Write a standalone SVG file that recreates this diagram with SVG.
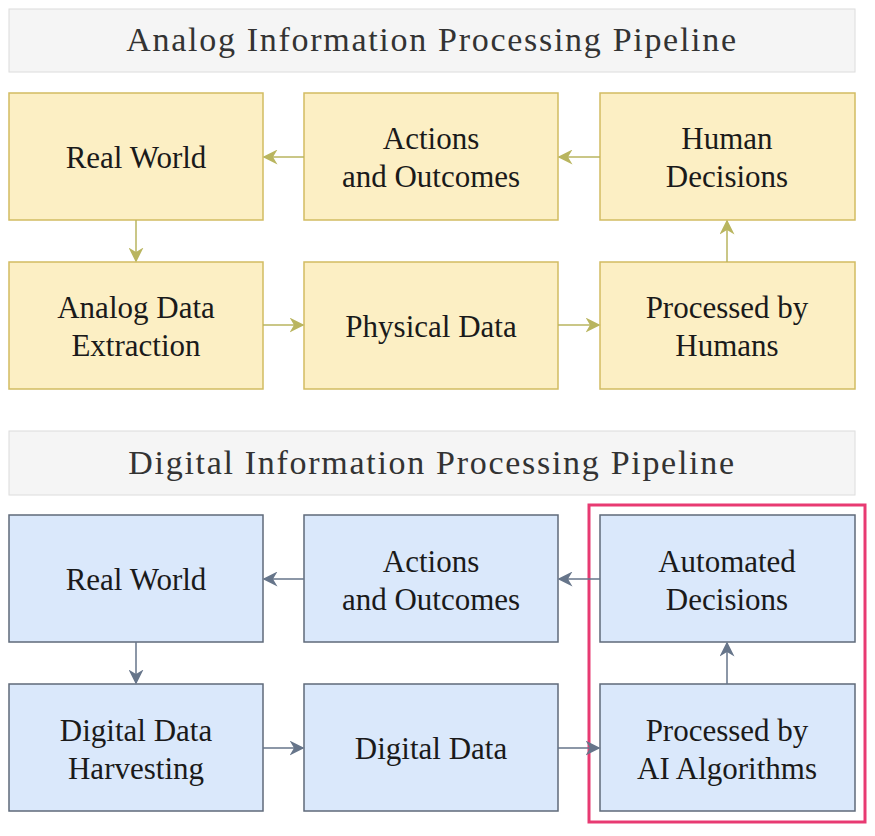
<svg xmlns="http://www.w3.org/2000/svg" width="875" height="836" viewBox="0 0 875 836">
<style>
.bg{fill:#ffffff}
.title rect{fill:#f5f5f5;stroke:#dcdcdc;stroke-width:1}
.title text{font-size:34px;fill:#333333;text-anchor:middle;letter-spacing:1.7px}
.an rect{fill:#fcefc4;stroke:#d2bc62;stroke-width:1.5}
.dg rect{fill:#dae8fb;stroke:#5f6a7a;stroke-width:1.5}
.node text{font-size:31px;fill:#1a1a1a;text-anchor:middle}
.ca{stroke:#b9b55f;stroke-width:1.5;fill:none;marker-end:url(#ma)}
.cd{stroke:#66758a;stroke-width:1.5;fill:none;marker-end:url(#md)}
</style>
<defs>
<marker id="ma" viewBox="0 0 10 10" refX="9" refY="5" markerWidth="15" markerHeight="15" markerUnits="userSpaceOnUse" orient="auto">
<path d="M0,0 L10,5 L0,10 L3,5 Z" fill="#b9b55f"/>
</marker>
<marker id="md" viewBox="0 0 10 10" refX="9" refY="5" markerWidth="15" markerHeight="15" markerUnits="userSpaceOnUse" orient="auto">
<path d="M0,0 L10,5 L0,10 L3,5 Z" fill="#66758a"/>
</marker>
</defs>
<rect class="bg" x="0" y="0" width="875" height="836"/>
<g font-family="Liberation Serif, Times New Roman, serif">
<g id="title-analog" class="title">
<rect x="9" y="9" width="846" height="63"/>
<text x="432" y="51">Analog Information Processing Pipeline</text>
</g>
<g id="title-digital" class="title">
<rect x="9" y="431" width="846" height="64"/>
<text x="432" y="474">Digital Information Processing Pipeline</text>
</g>

<g id="a-real-world" class="node an"><rect x="9" y="93" width="254" height="127"/><text x="136" y="168">Real World</text></g>
<g id="a-actions" class="node an"><rect x="304" y="93" width="254" height="127"/><text x="431" y="149">Actions</text><text x="431" y="187">and Outcomes</text></g>
<g id="a-human-decisions" class="node an"><rect x="600" y="93" width="255" height="127"/><text x="727" y="149">Human</text><text x="727" y="187">Decisions</text></g>
<g id="a-extraction" class="node an"><rect x="9" y="262" width="254" height="127"/><text x="136" y="318">Analog Data</text><text x="136" y="356">Extraction</text></g>
<g id="a-physical" class="node an"><rect x="304" y="262" width="254" height="127"/><text x="431" y="337">Physical Data</text></g>
<g id="a-processed" class="node an"><rect x="600" y="262" width="255" height="127"/><text x="727" y="318">Processed by</text><text x="727" y="356">Humans</text></g>

<g id="highlight"><rect x="589" y="505" width="276" height="317" fill="none" stroke="#e83a72" stroke-width="3"/></g>

<g id="d-real-world" class="node dg"><rect x="9" y="515" width="254" height="127"/><text x="136" y="590">Real World</text></g>
<g id="d-actions" class="node dg"><rect x="304" y="515" width="254" height="127"/><text x="431" y="572">Actions</text><text x="431" y="610">and Outcomes</text></g>
<g id="d-automated" class="node dg"><rect x="600" y="515" width="255" height="127"/><text x="727" y="572">Automated</text><text x="727" y="610">Decisions</text></g>
<g id="d-harvesting" class="node dg"><rect x="9" y="684" width="254" height="127"/><text x="136" y="741">Digital Data</text><text x="136" y="779">Harvesting</text></g>
<g id="d-digital" class="node dg"><rect x="304" y="684" width="254" height="127"/><text x="431" y="759">Digital Data</text></g>
<g id="d-processed" class="node dg"><rect x="600" y="684" width="255" height="127"/><text x="727" y="741">Processed by</text><text x="727" y="779">AI Algorithms</text></g>
</g>
<g id="connectors">
<line class="ca" x1="304" y1="157" x2="264" y2="157"/>
<line class="ca" x1="600" y1="157" x2="559" y2="157"/>
<line class="ca" x1="136" y1="220" x2="136" y2="261"/>
<line class="ca" x1="263" y1="325" x2="303" y2="325"/>
<line class="ca" x1="558" y1="325" x2="599" y2="325"/>
<line class="ca" x1="727" y1="262" x2="727" y2="221"/>
<line class="cd" x1="304" y1="579" x2="264" y2="579"/>
<line class="cd" x1="600" y1="579" x2="559" y2="579"/>
<line class="cd" x1="136" y1="642" x2="136" y2="683"/>
<line class="cd" x1="263" y1="748" x2="303" y2="748"/>
<line class="cd" x1="558" y1="748" x2="599" y2="748"/>
<line class="cd" x1="727" y1="684" x2="727" y2="643"/>
</g>
</svg>
